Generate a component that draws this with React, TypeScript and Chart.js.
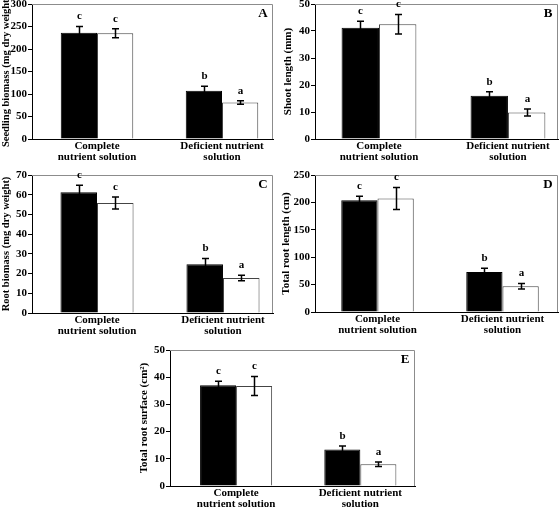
import React, { useEffect, useRef } from "react";
import { Chart, registerables } from "chart.js";

Chart.register(...registerables);

// ---- data ----
const categories: string[][] = [
  ["Complete", "nutrient solution"],
  ["Deficient nutrient", "solution"],
];
const groupPositions = [1, 2];
const lettersBlack = ["c", "b"];
const lettersWhite = ["c", "a"];

const seedlingBlack = [236, 107];
const seedlingBlackErr = [14, 10];
const seedlingWhite = [235, 81];
const seedlingWhiteErr = [10, 4];
const seedlingTicks = [0, 50, 100, 150, 200, 250, 300];

const shootBlack = [41.2, 16.0];
const shootBlackErr = [2.4, 1.5];
const shootWhite = [42.5, 9.8];
const shootWhiteErr = [3.6, 1.3];
const shootTicks = [0, 10, 20, 30, 40, 50];

const rootBlack = [61.3, 24.7];
const rootBlackErr = [3.5, 3.0];
const rootWhite = [55.8, 17.8];
const rootWhiteErr = [3.0, 1.4];
const rootTicks = [0, 10, 20, 30, 40, 50, 60, 70];

const lengthBlack = [204, 73];
const lengthBlackErr = [7, 7];
const lengthWhite = [207, 47];
const lengthWhiteErr = [20, 5];
const lengthTicks = [0, 50, 100, 150, 200, 250];

const surfaceBlack = [37.0, 13.4];
const surfaceBlackErr = [1.5, 1.3];
const surfaceWhite = [36.8, 8.0];
const surfaceWhiteErr = [3.5, 0.8];
const surfaceTicks = [0, 10, 20, 30, 40, 50];

// ---- layout / style ----
const FONT = "'Liberation Serif', 'Times New Roman', serif";

type PanelCfg = {
  id: string;
  title: string;
  titleSize: number;
  black: number[];
  blackErr: number[];
  white: number[];
  whiteErr: number[];
  ticks: number[];
  left: number;
  top: number;
  w: number;
  h: number;
  yWidth: number;
  padTop: number;
  padRight: number;
  xHeight: number;
  xMin: number;
  xMax: number;
  titlePad: number;
};

const panels: PanelCfg[] = [
  {
    id: "A", title: "Seedling biomass (mg dry weight)", titleSize: 10.5,
    black: seedlingBlack, blackErr: seedlingBlackErr, white: seedlingWhite, whiteErr: seedlingWhiteErr, ticks: seedlingTicks,
    left: 0, top: 0, w: 280, h: 170, yWidth: 32, padTop: 4, padRight: 7, xHeight: 31, xMin: 0.48, xMax: 2.408, titlePad: 0,
  },
  {
    id: "B", title: "Shoot length (mm)", titleSize: 11,
    black: shootBlack, blackErr: shootBlackErr, white: shootWhite, whiteErr: shootWhiteErr, ticks: shootTicks,
    left: 280, top: 0, w: 280, h: 170, yWidth: 35, padTop: 4, padRight: 2, xHeight: 31, xMin: 0.504, xMax: 2.388, titlePad: 1.5,
  },
  {
    id: "C", title: "Root biomass (mg dry weight)", titleSize: 10.5,
    black: rootBlack, blackErr: rootBlackErr, white: rootWhite, whiteErr: rootWhiteErr, ticks: rootTicks,
    left: 0, top: 170, w: 280, h: 170, yWidth: 32, padTop: 5, padRight: 7, xHeight: 27, xMin: 0.484, xMax: 2.397, titlePad: 0,
  },
  {
    id: "D", title: "Total root length (cm)", titleSize: 11,
    black: lengthBlack, blackErr: lengthBlackErr, white: lengthWhite, whiteErr: lengthWhiteErr, ticks: lengthTicks,
    left: 280, top: 170, w: 280, h: 170, yWidth: 35, padTop: 5, padRight: 2, xHeight: 28, xMin: 0.5, xMax: 2.444, titlePad: 0,
  },
  {
    id: "E", title: "Total root surface (cm\u00B2)", titleSize: 11,
    black: surfaceBlack, blackErr: surfaceBlackErr, white: surfaceWhite, whiteErr: surfaceWhiteErr, ticks: surfaceTicks,
    left: 130, top: 340, w: 300, h: 168, yWidth: 40, padTop: 10, padRight: 15, xHeight: 22, xMin: 0.468, xMax: 2.44, titlePad: 8,
  },
];

const decoPlugin = {
  id: "panelDeco",
  afterDatasetsDraw(chart: any, _args: any, opts: any) {
    const ctx = chart.ctx as CanvasRenderingContext2D;
    const { left, right, top, bottom } = chart.chartArea;
    const ys = chart.scales.y;
    ctx.save();
    // top & right frame
    ctx.strokeStyle = "#8c8c8c";
    ctx.lineWidth = 1;
    ctx.beginPath();
    ctx.moveTo(left, Math.round(top) + 0.5);
    ctx.lineTo(Math.round(right) - 0.5, Math.round(top) + 0.5);
    ctx.lineTo(Math.round(right) - 0.5, bottom);
    ctx.stroke();

    chart.data.datasets.forEach((ds: any, di: number) => {
      const meta = chart.getDatasetMeta(di);
      meta.data.forEach((bar: any, i: number) => {
        const v = ds.data[i].y;
        const e = ds.errors[i];
        const x = Math.round(bar.x) + 0.5;
        const yTop = ys.getPixelForValue(v + e);
        const yBot = ys.getPixelForValue(v - e);
        ctx.strokeStyle = "#000";
        ctx.lineWidth = 1.5;
        ctx.beginPath();
        ctx.moveTo(x, yTop);
        ctx.lineTo(x, yBot);
        ctx.moveTo(x - 3.5, yTop);
        ctx.lineTo(x + 3.5, yTop);
        ctx.moveTo(x - 3.5, yBot);
        ctx.lineTo(x + 3.5, yBot);
        ctx.stroke();
        ctx.fillStyle = "#000";
        ctx.font = `bold 11px ${FONT}`;
        ctx.textAlign = "center";
        ctx.textBaseline = "middle";
        ctx.fillText(ds.letters[i], x, yTop - 10);
      });
    });

    ctx.font = `bold 13px ${FONT}`;
    ctx.textAlign = "center";
    ctx.textBaseline = "middle";
    ctx.fillStyle = "#000";
    ctx.fillText(opts.label, right - 10, top + 10);
    ctx.restore();
  },
};

function Panel({ cfg }: { cfg: PanelCfg }) {
  const ref = useRef<HTMLCanvasElement | null>(null);
  useEffect(() => {
    if (!ref.current) return;
    const tickFont = { family: FONT, size: 11, weight: "bold" as const };
    const chart = new Chart(ref.current, {
      type: "bar",
      data: {
        datasets: [
          {
            data: groupPositions.map((x, i) => ({ x, y: cfg.black[i] })),
            backgroundColor: "#000",
            borderColor: "#000",
            borderWidth: 1,
            categoryPercentage: 0.58,
            barPercentage: 1,
            errors: cfg.blackErr,
            letters: lettersBlack,
          } as any,
          {
            data: groupPositions.map((x, i) => ({ x, y: cfg.white[i] })),
            backgroundColor: "#fff",
            borderColor: "#444",
            borderWidth: 1,
            categoryPercentage: 0.58,
            barPercentage: 1,
            errors: cfg.whiteErr,
            letters: lettersWhite,
          } as any,
        ],
      },
      options: {
        animation: false,
        responsive: false,
        devicePixelRatio: 1,
        layout: { padding: { top: cfg.padTop, right: cfg.padRight, left: 0, bottom: 0 } },
        plugins: {
          legend: { display: false },
          tooltip: { enabled: false },
          panelDeco: { label: cfg.id },
        } as any,
        scales: {
          x: {
            type: "linear",
            min: cfg.xMin,
            max: cfg.xMax,
            offset: false,
            afterBuildTicks: (s: any) => {
              s.ticks = groupPositions.map((v) => ({ value: v }));
            },
            afterFit: (s: any) => {
              s.height = cfg.xHeight;
              s.paddingLeft = 0;
              s.paddingRight = 0;
            },
            ticks: {
              callback: (v: any) => categories[groupPositions.indexOf(Number(v))],
              font: { family: FONT, size: 11, weight: "bold", lineHeight: 1 },
              color: "#000",
              padding: 2,
              maxRotation: 0,
              minRotation: 0,
              autoSkip: false,
            },
            grid: { display: false, drawTicks: false },
            border: { display: true, color: "#000", width: 1 },
          } as any,
          y: {
            min: cfg.ticks[0],
            max: cfg.ticks[cfg.ticks.length - 1],
            afterBuildTicks: (s: any) => {
              s.ticks = cfg.ticks.map((v) => ({ value: v }));
            },
            afterFit: (s: any) => {
              s.width = cfg.yWidth;
              s.paddingTop = 0;
              s.paddingBottom = 0;
            },
            ticks: { font: tickFont, color: "#000", padding: 1 },
            grid: { drawOnChartArea: false, drawTicks: true, tickLength: 4, color: "#000" },
            border: { display: true, color: "#000", width: 1 },
            title: {
              display: true,
              text: cfg.title,
              color: "#000",
              font: { family: FONT, size: cfg.titleSize, weight: "bold" },
              padding: { top: cfg.titlePad, bottom: 0 },
            },
          } as any,
        },
      },
      plugins: [decoPlugin as any],
    });
    return () => chart.destroy();
  }, [cfg]);
  return (
    <canvas
      ref={ref}
      width={cfg.w}
      height={cfg.h}
      style={{ position: "absolute", left: cfg.left, top: cfg.top, width: cfg.w, height: cfg.h }}
    />
  );
}

export default function App() {
  return (
    <div style={{ position: "absolute", left: 0, top: 0, width: 560, height: 508, background: "#fff", overflow: "hidden" }}>
      {panels.map((p) => (
        <Panel key={p.id} cfg={p} />
      ))}
    </div>
  );
}
